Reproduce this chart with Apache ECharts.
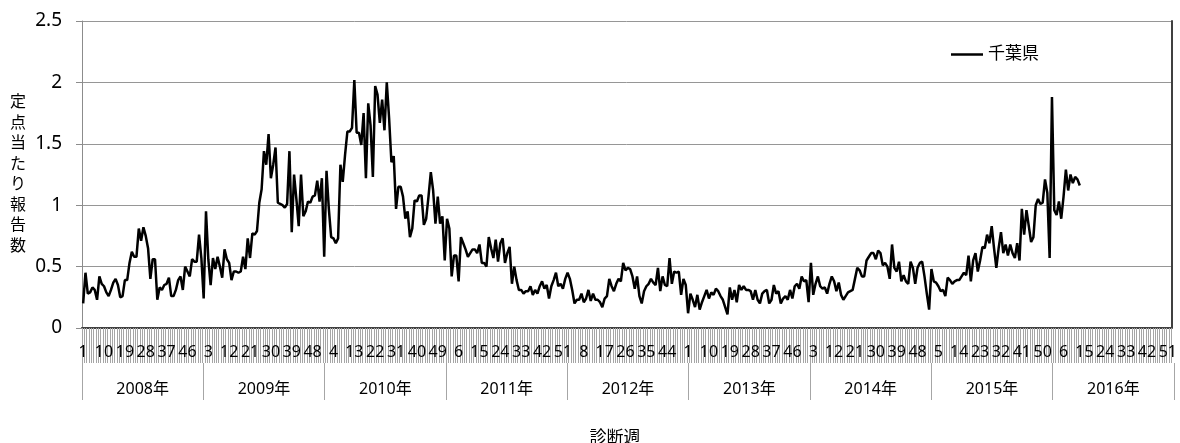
<!DOCTYPE html>
<html>
<head>
<meta charset="utf-8">
<script src="https://cdn.jsdelivr.net/npm/echarts@6/dist/echarts.min.js"></script>
<style>
html,body{margin:0;padding:0;background:#fff;}
#chart{width:1180px;height:443px;}
</style>
</head>
<body>
<div id="chart"></div>
<script>
// ---- data ----
const years = [2008, 2009, 2010, 2011, 2012, 2013, 2014, 2015, 2016];
const weeksPerYear = [52, 53, 52, 52, 52, 52, 52, 53, 52];
const seriesName = '千葉県';
const yTicks = [0, 0.5, 1, 1.5, 2, 2.5];

const v2008 = [0.20,0.45,0.28,0.29,0.33,0.31,0.23,0.42,0.36,0.34,0.29,0.26,0.31,0.37,0.40,0.35,0.25,0.26,0.39,0.39,0.53,0.62,0.58,0.58,0.81,0.71,0.82,0.75,0.65,0.40,0.56,0.56,0.23,0.33,0.31,0.35,0.36,0.41,0.26,0.26,0.31,0.39,0.42,0.31,0.50,0.46,0.42,0.56,0.54,0.54,0.76,0.57];
const v2009 = [0.24,0.95,0.56,0.35,0.57,0.48,0.58,0.50,0.41,0.64,0.56,0.53,0.39,0.46,0.46,0.45,0.46,0.58,0.48,0.73,0.57,0.77,0.76,0.79,1.02,1.13,1.44,1.33,1.58,1.22,1.33,1.47,1.02,1.01,1.00,0.98,1.01,1.44,0.78,1.25,1.05,0.83,1.25,0.91,0.95,1.03,1.02,1.07,1.08,1.20,1.03,1.22,0.58];
const v2010 = [1.28,0.97,0.74,0.73,0.69,0.73,1.33,1.19,1.41,1.60,1.60,1.63,2.02,1.59,1.59,1.49,1.75,1.22,1.83,1.65,1.23,1.97,1.90,1.67,1.86,1.61,2.00,1.71,1.35,1.40,0.97,1.15,1.15,1.07,0.89,0.95,0.74,0.81,1.04,1.03,1.08,1.08,0.84,0.89,1.07,1.27,1.12,0.85,1.07,0.85,0.91,0.55];
const v2011 = [0.89,0.81,0.42,0.59,0.59,0.38,0.74,0.69,0.64,0.58,0.61,0.64,0.64,0.61,0.68,0.53,0.53,0.50,0.74,0.65,0.57,0.72,0.54,0.69,0.73,0.53,0.61,0.66,0.36,0.50,0.39,0.31,0.31,0.28,0.30,0.30,0.34,0.27,0.31,0.28,0.34,0.38,0.32,0.35,0.24,0.34,0.39,0.45,0.34,0.36,0.32,0.40];
const v2012 = [0.45,0.40,0.31,0.20,0.23,0.23,0.28,0.21,0.24,0.31,0.22,0.28,0.23,0.23,0.21,0.17,0.24,0.26,0.40,0.34,0.30,0.36,0.40,0.38,0.53,0.47,0.49,0.48,0.42,0.32,0.42,0.26,0.20,0.30,0.34,0.36,0.40,0.37,0.35,0.49,0.30,0.42,0.35,0.34,0.57,0.36,0.46,0.45,0.46,0.27,0.40,0.35];
const v2013 = [0.12,0.28,0.23,0.17,0.27,0.15,0.21,0.26,0.31,0.24,0.29,0.27,0.32,0.30,0.26,0.23,0.17,0.11,0.33,0.23,0.31,0.21,0.35,0.31,0.34,0.31,0.31,0.30,0.23,0.31,0.23,0.20,0.28,0.30,0.31,0.20,0.23,0.35,0.28,0.30,0.20,0.24,0.26,0.23,0.31,0.24,0.34,0.36,0.32,0.42,0.38,0.39];
const v2014 = [0.21,0.53,0.27,0.36,0.42,0.34,0.32,0.33,0.28,0.36,0.42,0.38,0.30,0.37,0.27,0.23,0.26,0.29,0.30,0.31,0.40,0.49,0.47,0.42,0.42,0.55,0.58,0.61,0.61,0.56,0.63,0.61,0.51,0.53,0.50,0.40,0.68,0.49,0.46,0.54,0.38,0.43,0.38,0.36,0.54,0.49,0.36,0.49,0.53,0.54,0.42,0.28];
const v2015 = [0.15,0.48,0.38,0.37,0.34,0.30,0.31,0.26,0.41,0.39,0.36,0.38,0.39,0.39,0.42,0.45,0.43,0.59,0.38,0.55,0.61,0.46,0.55,0.66,0.65,0.76,0.69,0.83,0.65,0.49,0.65,0.78,0.61,0.68,0.59,0.68,0.61,0.57,0.69,0.55,0.97,0.76,0.96,0.83,0.70,0.74,1.00,1.05,1.01,1.02,1.21,1.10,0.57];
const v2016 = [1.88,0.96,0.92,1.03,0.89,1.07,1.29,1.12,1.25,1.18,1.23,1.21,1.16];

// ---- build categories ----
const weekCats = [];
weeksPerYear.forEach((n) => {
  for (let w = 1; w <= n; w++) weekCats.push(String(w));
});
const yearCats = years.map((y) => y + '年');
const values = [].concat(v2008, v2009, v2010, v2011, v2012, v2013, v2014, v2015, v2016);

const FONT = "'Noto Sans', 'Noto Sans CJK JP', sans-serif";
const chart = echarts.init(document.getElementById('chart'), null, {renderer: 'canvas'});
chart.setOption({
  animation: false,
  backgroundColor: '#fff',
  textStyle: {fontFamily: FONT, color: '#000'},
  title: {
    text: '診断週',
    left: 610, top: 425,
    textAlign: 'center',
    textStyle: {fontFamily: FONT, fontSize: 17, fontWeight: 'normal', color: '#000'}
  },
  legend: {
    data: [seriesName],
    left: 946, top: 41,
    icon: 'rect',
    itemWidth: 32, itemHeight: 2.5,
    textStyle: {fontFamily: FONT, fontSize: 17, color: '#000'}
  },
  grid: [
    {left: 82, right: 6, top: 21, bottom: 115, containLabel: false},
    {left: 82, right: 6, top: 363, height: 37, containLabel: false}
  ],
  xAxis: [
    {
      type: 'category', data: weekCats, position: 'bottom', boundaryGap: true, gridIndex: 0,
      axisLine: {show: true, lineStyle: {color: '#8c8c8c', width: 1.5}},
      axisTick: {show: true, interval: 0, length: 35, lineStyle: {color: '#a6a6a6', width: 1}},
      axisLabel: {interval: 8, margin: 16, fontFamily: FONT, fontSize: 16, color: '#000'},
      splitLine: {show: false}
    },
    {
      type: 'category', data: weekCats, position: 'top', boundaryGap: true, gridIndex: 0,
      axisLine: {show: true, lineStyle: {color: '#404040', width: 2}},
      axisTick: {show: false}, axisLabel: {show: false}, splitLine: {show: false}
    },
    {
      type: 'category', data: yearCats, position: 'top', boundaryGap: true, gridIndex: 1,
      axisLine: {show: false},
      axisTick: {show: false},
      axisLabel: {interval: 0, inside: true, margin: 18, fontFamily: FONT, fontSize: 16, color: '#000'},
      splitLine: {show: true, interval: 0, lineStyle: {color: '#a6a6a6', width: 1}}
    }
  ],
  yAxis: [
    {
      type: 'value', min: 0, max: 2.5, interval: 0.5, gridIndex: 0,
      name: '定\n点\n当\nた\nり\n報\n告\n数',
      nameLocation: 'middle', nameRotate: 0, nameGap: 64,
      nameTextStyle: {fontFamily: FONT, fontSize: 16, lineHeight: 20.5, color: '#000', align: 'center', verticalAlign: 'middle', padding: [24, 0, 0, 0]},
      axisLine: {show: true, lineStyle: {color: '#8c8c8c', width: 1}},
      axisTick: {show: true, length: 6, lineStyle: {color: '#8c8c8c'}},
      axisLabel: {margin: 20, fontFamily: FONT, fontSize: 19, color: '#000', formatter: (v) => String(v)},
      splitLine: {show: true, lineStyle: {color: '#969696', width: 1}}
    },
    {
      type: 'value', min: 0, max: 2.5, interval: 0.5, position: 'right', gridIndex: 0,
      axisLine: {show: true, lineStyle: {color: '#404040', width: 2}},
      axisTick: {show: false}, axisLabel: {show: false}, splitLine: {show: false}
    },
    {
      type: 'value', min: 0, max: 1, gridIndex: 1, show: false
    }
  ],
  series: [{
    name: seriesName,
    type: 'line',
    xAxisIndex: 0, yAxisIndex: 0,
    data: values,
    symbol: 'none', showSymbol: false,
    lineStyle: {color: '#000', width: 2.5},
    itemStyle: {color: '#000'}
  }]
});
</script>
</body>
</html>
